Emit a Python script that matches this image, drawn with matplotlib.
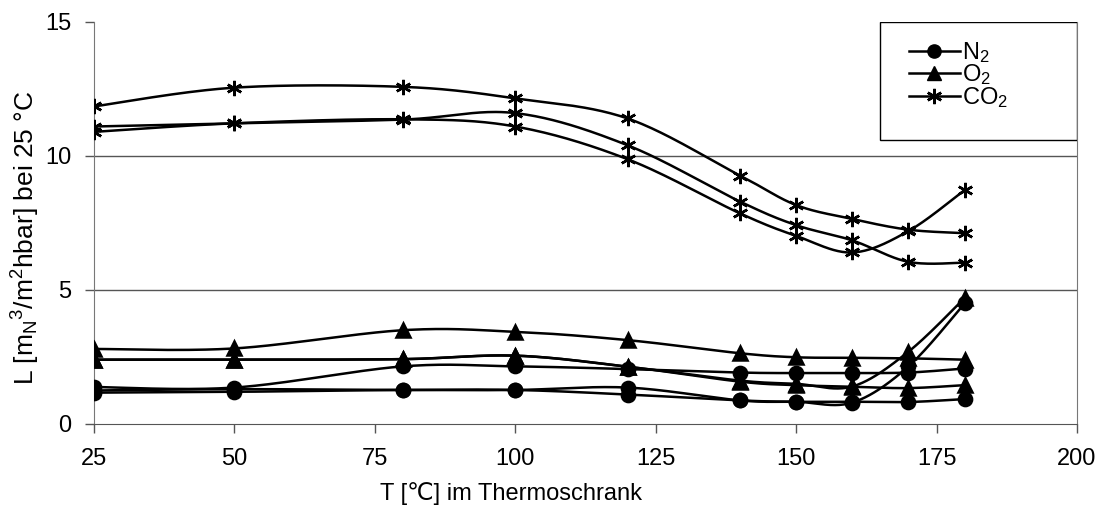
import numpy as np
import matplotlib.pyplot as plt
from matplotlib.lines import Line2D
from matplotlib.patches import Rectangle

plt.rcParams['font.family'] = ['Liberation Sans', 'DejaVu Sans']
plt.rcParams['mathtext.default'] = 'regular'
plt.rcParams['font.size'] = 17

# Temperatur im Thermoschrank [°C]
temps = [25, 50, 80, 100, 120, 140, 150, 160, 170, 180]

# Permeabilität L bei 25 °C, je drei Messreihen pro Gas
n2_a = [1.38, 1.36, 2.15, 2.15, 2.05, 1.92, 1.9, 1.9, 1.92, 2.07]
n2_b = [1.17, 1.2, 1.27, 1.27, 1.1, 0.88, 0.83, 0.83, 0.82, 0.93]
n2_c = [1.25, 1.3, 1.27, 1.27, 1.36, 0.88, 0.83, 0.8, 2.15, 4.5]

o2_a = [2.8, 2.82, 3.5, 3.44, 3.13, 2.64, 2.49, 2.47, 2.45, 2.4]
o2_b = [2.4, 2.4, 2.42, 2.55, 2.14, 1.58, 1.45, 1.39, 1.34, 1.45]
o2_c = [2.4, 2.4, 2.42, 2.55, 2.14, 1.62, 1.5, 1.4, 2.7, 4.7]

co2_a = [11.85, 12.55, 12.58, 12.15, 11.4, 9.27, 8.17, 7.65, 7.25, 7.12]
co2_b = [11.1, 11.22, 11.36, 11.6, 10.4, 8.3, 7.42, 6.85, 6.05, 6.02]
co2_c = [10.9, 11.22, 11.37, 11.1, 9.88, 7.86, 7.02, 6.4, 7.2, 8.73]


def glatt(x, y, n=40):
    # Excel-artige geglättete Linie (Bezier mit Catmull-Rom-Kontrollpunkten)
    x = np.asarray(x, float)
    y = np.asarray(y, float)
    px = np.concatenate([[x[0]], x, [x[-1]]])
    py = np.concatenate([[y[0]], y, [y[-1]]])
    xs, ys = [], []
    t = np.linspace(0, 1, n)
    for i in range(1, len(px) - 2):
        p0, p1, p2, p3 = (np.array([px[j], py[j]]) for j in range(i - 1, i + 3))
        c1 = p1 + (p2 - p0) / 6
        c2 = p2 - (p3 - p1) / 6
        b = (((1 - t) ** 3)[:, None] * p1 + (3 * (1 - t) ** 2 * t)[:, None] * c1
             + (3 * (1 - t) * t ** 2)[:, None] * c2 + (t ** 3)[:, None] * p2)
        xs.extend(b[:, 0])
        ys.extend(b[:, 1])
    return xs, ys


stern = (6, 2, 0)
fig = plt.figure(figsize=(11.02, 5.09), dpi=100)
ax = fig.add_axes([94 / 1102, 1 - 424 / 509, 983 / 1102, 402 / 509])

reihen = [
    (n2_a, 'o', 9.5), (n2_b, 'o', 9.5), (n2_c, 'o', 9.5),
    (o2_a, '^', 9.5), (o2_b, '^', 9.5), (o2_c, '^', 9.5),
    (co2_a, stern, 11), (co2_b, stern, 11), (co2_c, stern, 11),
]
for werte, marker, ms in reihen:
    sx, sy = glatt(temps, werte)
    ax.plot(sx, sy, color='black', lw=1.8, zorder=3)
    ax.plot(temps, werte, ls='none', marker=marker, ms=ms, color='black',
            mec='black', mew=1.8, zorder=4)

ax.set_xlim(25, 200)
ax.set_ylim(0, 15)
ax.set_xticks([25, 50, 75, 100, 125, 150, 175, 200])
ax.set_yticks([0, 5, 10, 15])
for g in [5, 10]:
    ax.axhline(g, color='#555555', lw=1.0, zorder=1)

ax.spines['top'].set_visible(False)
ax.spines['left'].set_color('#777777')
ax.spines['right'].set_color('#777777')
ax.spines['bottom'].set_color('#555555')
ax.tick_params(axis='both', direction='out', length=6.5, width=1, colors='#555555',
               labelcolor='black', labelsize=17)
ax.tick_params(axis='x', pad=11)
ax.tick_params(axis='y', pad=10)

ax.set_xlabel('T [℃] im Thermoschrank', fontsize=17)
ax.xaxis.set_label_coords(0.424, -0.145)
ax.set_ylabel('L [m$_N$$^3$/m$^2$hbar] bei 25 °C', fontsize=19)
ax.yaxis.set_label_coords(-0.053, 0.463)

# Legende
ax.add_patch(Rectangle(((880 - 94) / 983, 1 - 118 / 402), 197 / 983, 118 / 402,
                       transform=ax.transAxes, facecolor='white', edgecolor='black',
                       lw=1, zorder=5))
griffe = [
    Line2D([], [], color='black', lw=1.8, marker='o', ms=9.5),
    Line2D([], [], color='black', lw=1.8, marker='^', ms=9.5),
    Line2D([], [], color='black', lw=1.8, marker=stern, ms=11, mew=1.8),
]
leg = ax.legend(griffe, ['N$_2$', 'O$_2$', 'CO$_2$'], loc='upper left',
                bbox_to_anchor=((909 - 94) / 983, 1 - 18 / 402), frameon=False,
                fontsize=17, handlelength=2.15, handletextpad=0.1, labelspacing=-0.1,
                borderpad=0, borderaxespad=0)
leg.set_zorder(6)

fig.savefig('out.png', dpi=100)
